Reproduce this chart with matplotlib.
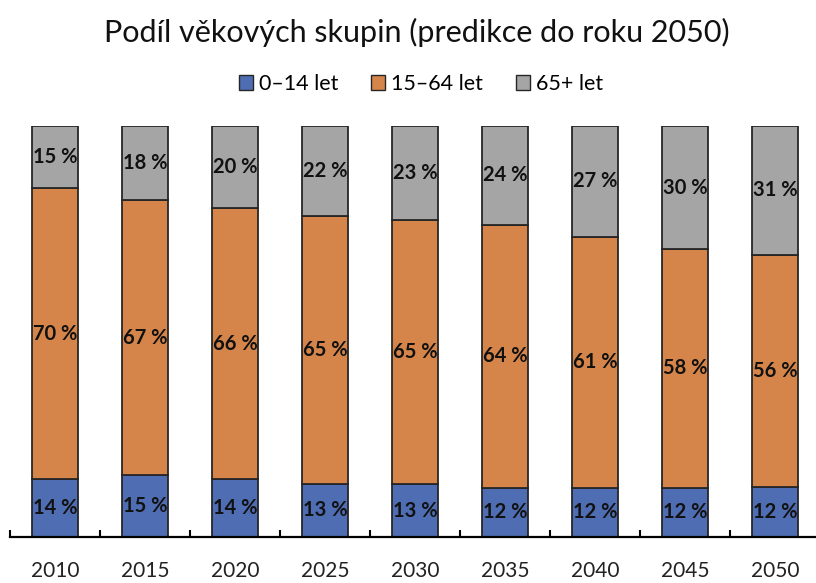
#!/usr/bin/env python3
"""Stacked 100 % bars: age group shares, prediction to 2050."""

import matplotlib
import matplotlib.pyplot as plt
import numpy as np
from matplotlib.patches import Patch

matplotlib.use("Agg")

YEARS = ["2010", "2015", "2020", "2025", "2030", "2035", "2040", "2045", "2050"]
YOUNG = [14, 15, 14, 13, 13, 12, 12, 12, 12]      # 0–14 let
WORKING = [70, 67, 66, 65, 65, 64, 61, 58, 56]    # 15–64 let
OLD = [15, 18, 20, 22, 23, 24, 27, 30, 31]        # 65+ let

_SERIES = ("0–14 let", "15–64 let", "65+ let")
_COLORS = ("#4f6db3", "#d5854a", "#a5a5a5")
_FONT = ["Lato", "DejaVu Sans"]


def main() -> None:
    plt.rcParams["font.family"] = _FONT
    fig = plt.figure(figsize=(8.16, 5.83), dpi=100)
    ax = fig.add_axes([10 / 816, 46 / 583, 810 / 816, 411 / 583])

    data = np.array([YOUNG, WORKING, OLD], dtype=float)
    shares = data / data.sum(axis=0)
    x = np.arange(len(YEARS))
    bottom = np.zeros(len(YEARS))

    for label, vals, share, color in zip(_SERIES, data, shares, _COLORS):
        bars = ax.bar(x, share, 0.52, bottom=bottom, color=color,
                      edgecolor="#262626", linewidth=1.3, label=label)
        ax.bar_label(bars, labels=[f"{int(v)} %" for v in vals], label_type="center",
                     fontsize=14.5, fontweight="bold", color="#111111")
        bottom += share

    ax.set_xlim(-0.5, len(YEARS) - 0.5)
    ax.set_ylim(0, 1)
    ax.set_xticks(x)
    ax.set_xticklabels(YEARS, fontsize=15, color="#222222")
    ax.tick_params(axis="x", which="major", length=0, pad=17)
    ax.set_xticks(np.arange(-0.5, len(YEARS), 1.0), minor=True)
    ax.tick_params(axis="x", which="minor", direction="in", length=5, width=1.5, color="black")
    ax.set_yticks([])
    for side in ("left", "right", "top"):
        ax.spines[side].set_visible(False)
    ax.spines["bottom"].set_linewidth(1.6)
    ax.spines["bottom"].set_color("black")

    fig.text(0.511, 0.945, "Podíl věkových skupin (predikce do roku 2050)",
             ha="center", va="center", fontsize=22, color="#111111")

    handles = [Patch(facecolor=c, edgecolor="#262626", linewidth=1.0, label=s)
               for s, c in zip(_SERIES, _COLORS)]
    fig.legend(handles=handles, loc="center", bbox_to_anchor=(0.516, 0.856), ncol=3,
               frameon=False, fontsize=15.5, handlelength=0.65, handleheight=0.65,
               handletextpad=0.3, columnspacing=1.5)

    fig.savefig("out.png", dpi=100)
    plt.close(fig)


if __name__ == "__main__":
    main()
